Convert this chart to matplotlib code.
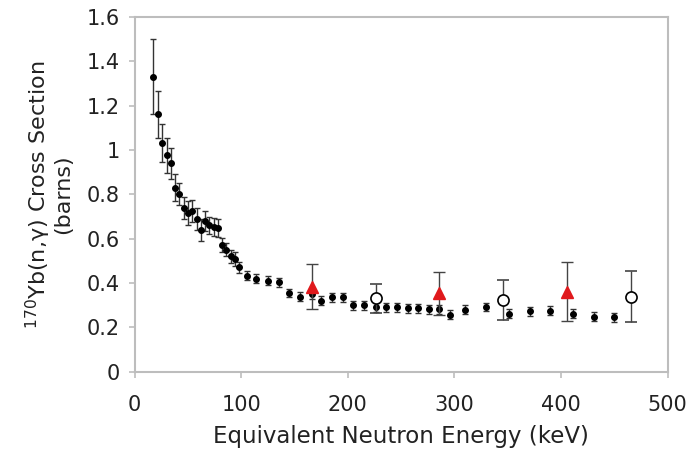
import matplotlib
matplotlib.use("Agg")
import matplotlib.pyplot as plt

# measured cross sections (black points)
energy = [17.5, 22, 26, 30, 34, 38, 42, 46, 50, 54, 58, 62, 66, 70, 74, 78,
          82, 86, 90, 94, 98, 105, 114, 125, 135, 145, 155, 166, 175, 185,
          195, 205, 215, 226, 236, 246, 256, 266, 276, 286, 296, 310, 330,
          351, 371, 390, 411, 431, 450]
xs = [1.33, 1.16, 1.03, 0.975, 0.94, 0.83, 0.80, 0.74, 0.715, 0.725, 0.69,
      0.64, 0.68, 0.66, 0.653, 0.647, 0.572, 0.55, 0.52, 0.508, 0.472, 0.434,
      0.419, 0.411, 0.404, 0.355, 0.339, 0.35, 0.32, 0.335, 0.335, 0.30, 0.30,
      0.29, 0.29, 0.29, 0.287, 0.287, 0.282, 0.282, 0.257, 0.279, 0.292,
      0.261, 0.272, 0.276, 0.261, 0.249, 0.246]
xs_err = [0.17, 0.105, 0.085, 0.08, 0.07, 0.06, 0.05, 0.05, 0.055, 0.05, 0.05,
          0.05, 0.045, 0.04, 0.04, 0.04, 0.03, 0.03, 0.03, 0.03, 0.025, 0.02,
          0.02, 0.02, 0.02, 0.02, 0.02, 0.02, 0.02, 0.02, 0.02, 0.02, 0.02,
          0.02, 0.02, 0.02, 0.02, 0.02, 0.02, 0.02, 0.02, 0.02, 0.02, 0.02,
          0.02, 0.02, 0.02, 0.02, 0.02]

# red triangles
tri_e = [166, 286, 406]
tri_xs = [0.384, 0.355, 0.362]
tri_err = [0.10, 0.097, 0.135]

# open circles
circ_e = [226, 346, 466]
circ_xs = [0.332, 0.324, 0.339]
circ_err = [0.065, 0.09, 0.115]

fig = plt.figure(figsize=(6.91, 4.54), dpi=100)
ax = fig.add_axes([0.195, 0.181, 0.771, 0.782])

ax.errorbar(energy, xs, yerr=xs_err, fmt="o", color="black", ms=4,
            ecolor="#333333", elinewidth=1, capsize=2.5, capthick=1, zorder=3)
ax.errorbar(circ_e, circ_xs, yerr=circ_err, fmt="o", mfc="white", mec="black",
            mew=1.2, ms=8, ecolor="#444444", elinewidth=1, capsize=4,
            capthick=1, zorder=4)
ax.errorbar(tri_e, tri_xs, yerr=tri_err, fmt="^", color="#e0191c", ms=9,
            ecolor="#444444", elinewidth=1, capsize=4, capthick=1, zorder=4)

ax.set_xlim(0, 500)
ax.set_ylim(0, 1.6)
ax.set_xticks([0, 100, 200, 300, 400, 500])
ax.set_yticks([0, 0.2, 0.4, 0.6, 0.8, 1.0, 1.2, 1.4, 1.6])
ax.set_yticklabels(["0", "0.2", "0.4", "0.6", "0.8", "1", "1.2", "1.4", "1.6"])

for s in ax.spines.values():
    s.set_color("#bdbdbd")
    s.set_linewidth(1.5)
ax.tick_params(axis="both", colors="#bdbdbd", labelcolor="#222222",
               labelsize=15, length=4, width=1.2)
ax.tick_params(axis="x", pad=13)
ax.tick_params(axis="y", pad=7)

ax.set_xlabel("Equivalent Neutron Energy (keV)", fontsize=16.5, color="#222222")
ax.set_ylabel(r"$^{170}$Yb(n,γ) Cross Section" + "\n(barns)",
              fontsize=16, color="#222222", linespacing=1.0)
ax.xaxis.set_label_coords(0.5, -0.15)
ax.yaxis.set_label_coords(-0.115, 0.5)

fig.savefig("out.png", dpi=100)
